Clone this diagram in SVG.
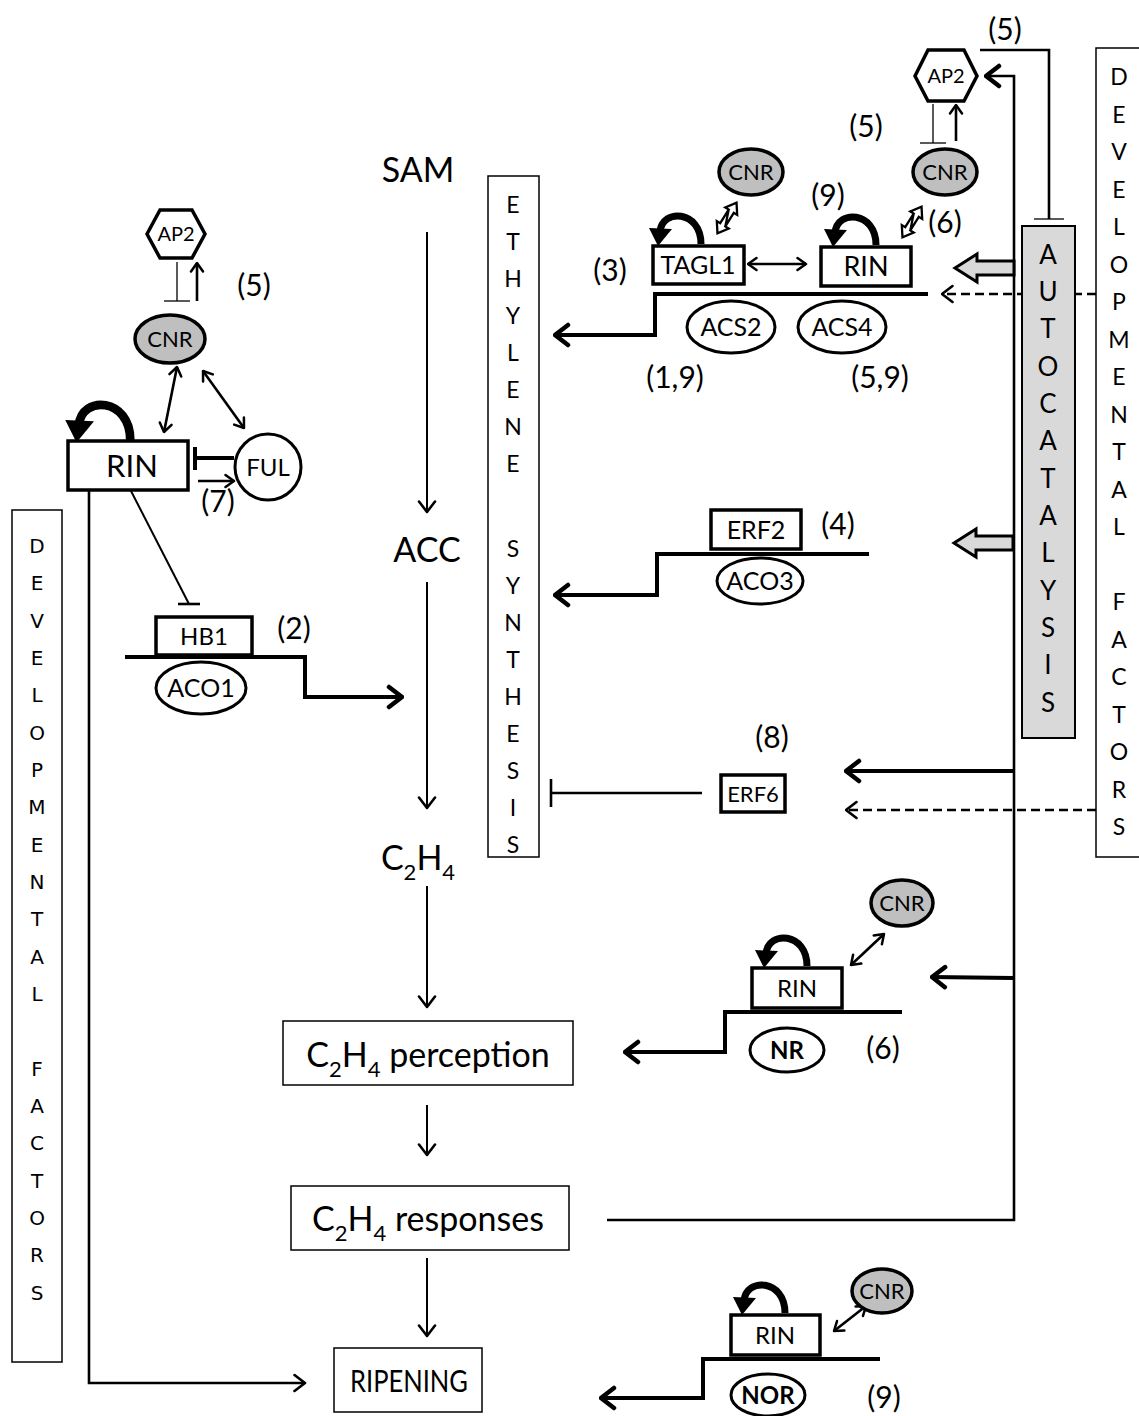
<svg xmlns="http://www.w3.org/2000/svg" xmlns:xlink="http://www.w3.org/1999/xlink" width="1139" height="1416" viewBox="0 0 1139 1416">
<style>
text{font-family:Lato,"Open Sans","Liberation Sans",sans-serif;fill:#000;text-anchor:middle}
.big{font-size:34px}
.lab{font-size:30px}
.g24{font-size:24px}
.g25{font-size:25px}
.g22{font-size:22px}
.g20{font-size:20px}
.bold{font-weight:bold}
.vl{font-size:23px}
.vlL{font-family:"DejaVu Sans",sans-serif;font-size:20px}
.box{fill:#fff;stroke:#000;stroke-width:1.5}
.gbox{fill:#fff;stroke:#000;stroke-width:3.5}
.ell{fill:#fff;stroke:#000;stroke-width:3}
.cnr{fill:#bfbfbf;stroke:#000;stroke-width:3.5}
.hex{fill:#fff;stroke:#000;stroke-width:3.5}
.thin{fill:none;stroke:#000;stroke-width:2}
.med{fill:none;stroke:#000;stroke-width:2.6}
.thick{fill:none;stroke:#000;stroke-width:4}
.dash{fill:none;stroke:#000;stroke-width:2.6;stroke-dasharray:9 5}
.bar{fill:none;stroke:#000;stroke-width:1.3}
</style>
<defs>
<marker id="ahB" viewBox="0 0 18 26" refX="16" refY="13" markerWidth="18" markerHeight="26" markerUnits="userSpaceOnUse" orient="auto-start-reverse"><path d="M3,3 L16,13 L3,23" fill="none" stroke="#000" stroke-width="4.5" stroke-linecap="round" stroke-linejoin="round"/></marker>
<marker id="ahM" viewBox="0 0 14 20" refX="12.5" refY="10" markerWidth="14" markerHeight="20" markerUnits="userSpaceOnUse" orient="auto-start-reverse"><path d="M2,2 L12.5,10 L2,18" fill="none" stroke="#000" stroke-width="2.6" stroke-linecap="round" stroke-linejoin="round"/></marker>
<marker id="ahS" viewBox="0 0 12 16" refX="10.5" refY="8" markerWidth="12" markerHeight="16" markerUnits="userSpaceOnUse" orient="auto-start-reverse"><path d="M2,2 L10.5,8 L2,14" fill="none" stroke="#000" stroke-width="2.5" stroke-linecap="round" stroke-linejoin="round"/></marker>
<g id="loop"><path d="M21,0 C21,-34 -18,-36 -20,-12" fill="none" stroke="#000" stroke-width="7"/><polygon points="-31,-16 -8,-15 -22,2" fill="#000"/></g>
<g id="dbl"><path d="M-18,0 L-8,-7 L-8,-3 L8,-3 L8,-7 L18,0 L8,7 L8,3 L-8,3 L-8,7 Z M-8,3 L8,-3" fill="#fff" stroke="#000" stroke-width="2.3" stroke-linejoin="miter"/></g>
<path id="blk" d="M0,0 L22,-14 L22,-7 L59,-7 L59,7 L22,7 L22,14 Z" fill="#d9d9d9" stroke="#000" stroke-width="3" stroke-linejoin="miter"/>
</defs>

<g id="connectors">
<line class="thin" x1="427" y1="232" x2="427" y2="512" marker-end="url(#ahM)"/>
<line class="thin" x1="427" y1="582" x2="427" y2="808" marker-end="url(#ahM)"/>
<line class="thin" x1="427" y1="886" x2="427" y2="1007" marker-end="url(#ahM)"/>
<line class="thin" x1="427" y1="1105" x2="427" y2="1155" marker-end="url(#ahM)"/>
<line class="thin" x1="427" y1="1258" x2="427" y2="1336" marker-end="url(#ahM)"/>
<path class="med" d="M89,490 L89,1383 L305,1383" marker-end="url(#ahM)"/>
<line class="thin" x1="131" y1="491" x2="189" y2="604"/>
<line class="med" x1="178" y1="604" x2="200" y2="604"/>
<line class="bar" x1="177" y1="262" x2="177" y2="301"/>
<line class="bar" x1="164" y1="301" x2="190" y2="301"/>
<line class="med" x1="197" y1="301" x2="197" y2="263" marker-end="url(#ahS)"/>
<line class="med" x1="177" y1="367" x2="164" y2="432" marker-start="url(#ahS)" marker-end="url(#ahS)"/>
<line class="med" x1="203" y1="371" x2="244" y2="428" marker-start="url(#ahS)" marker-end="url(#ahS)"/>
<line class="thick" x1="234" y1="458" x2="195" y2="458"/>
<line class="thick" x1="195" y1="447" x2="195" y2="470"/>
<line class="med" x1="198" y1="481" x2="234" y2="481" marker-end="url(#ahS)"/>
<path class="thick" d="M125,657 L305,657 L305,697 L402,697" marker-end="url(#ahB)"/>
<path class="thick" d="M928,294 L655,294 L655,335 L555,335" marker-end="url(#ahB)"/>
<path class="thick" d="M869,554 L657,554 L657,595 L555,595" marker-end="url(#ahB)"/>
<path class="thick" d="M902,1012 L725,1012 L725,1052 L625,1052" marker-end="url(#ahB)"/>
<path class="thick" d="M880,1359 L703,1359 L703,1398 L601,1398" marker-end="url(#ahB)"/>
<line class="med" x1="748" y1="264" x2="806" y2="264" marker-start="url(#ahS)" marker-end="url(#ahS)"/>
<line class="bar" x1="933" y1="104" x2="933" y2="143"/>
<line class="bar" x1="920" y1="143" x2="946" y2="143"/>
<line class="med" x1="956" y1="141" x2="956" y2="105" marker-end="url(#ahS)"/>
<path class="med" d="M980,50 L1049,50 L1049,219"/>
<line class="bar" x1="1034" y1="219" x2="1064" y2="219"/>
<line class="dash" x1="1096" y1="294" x2="942" y2="294" marker-end="url(#ahM)"/>
<line class="dash" x1="1096" y1="810" x2="846" y2="810" marker-end="url(#ahM)"/>
<path class="med" d="M607,1220 L1014,1220 L1014,76 L986,76" marker-end="url(#ahB)"/>
<line class="thick" x1="1013" y1="771" x2="846" y2="771" marker-end="url(#ahB)"/>
<line class="thick" x1="1013" y1="978" x2="932" y2="977" marker-end="url(#ahB)"/>
<line class="med" x1="702" y1="793" x2="551" y2="793"/>
<line class="med" x1="551" y1="779" x2="551" y2="807"/>
<line class="med" x1="851" y1="965" x2="884" y2="934" marker-start="url(#ahS)" marker-end="url(#ahS)"/>
<line class="med" x1="834" y1="1331" x2="866" y2="1306" marker-start="url(#ahS)" marker-end="url(#ahS)"/>
<use xlink:href="#blk" href="#blk" x="955" y="268"/>
<use xlink:href="#blk" href="#blk" x="954" y="543"/>
<use xlink:href="#dbl" href="#dbl" transform="translate(727,218) rotate(-58)"/>
<use xlink:href="#dbl" href="#dbl" transform="translate(912,222) rotate(-58)"/>
</g>

<g id="main-column">
<text class="big" x="418" y="182">SAM</text>
<text class="big" x="427" y="562">ACC</text>
<text class="big" x="418" y="870">C<tspan font-size="22" dy="10">2</tspan><tspan dy="-10">H</tspan><tspan font-size="22" dy="10">4</tspan></text>
</g>
<g id="perception"><rect class="box" x="283" y="1021" width="290" height="64"/><text class="big" x="428" y="1067">C<tspan font-size="22" dy="10">2</tspan><tspan dy="-10">H</tspan><tspan font-size="22" dy="10">4</tspan><tspan dy="-10"> perception</tspan></text></g>
<g id="responses"><rect class="box" x="291" y="1186" width="278" height="64"/><text class="big" x="428" y="1231">C<tspan font-size="22" dy="10">2</tspan><tspan dy="-10">H</tspan><tspan font-size="22" dy="10">4</tspan><tspan dy="-10"> responses</tspan></text></g>
<g id="ripening"><rect class="box" x="334" y="1348" width="148" height="64"/><text style="font-size:31px" x="409" y="1392" textLength="118" lengthAdjust="spacingAndGlyphs">RIPENING</text></g>

<g id="ethylene-synthesis"><rect class="box" x="488" y="176" width="51" height="681"/>
<text class="vl" x="513"><tspan x="513" y="213">E</tspan><tspan x="513" y="250">T</tspan><tspan x="513" y="287">H</tspan><tspan x="513" y="324">Y</tspan><tspan x="513" y="361">L</tspan><tspan x="513" y="398">E</tspan><tspan x="513" y="435">N</tspan><tspan x="513" y="472">E</tspan><tspan x="513" y="557">S</tspan><tspan x="513" y="594">Y</tspan><tspan x="513" y="631">N</tspan><tspan x="513" y="668">T</tspan><tspan x="513" y="705">H</tspan><tspan x="513" y="742">E</tspan><tspan x="513" y="779">S</tspan><tspan x="513" y="816">I</tspan><tspan x="513" y="853">S</tspan></text></g>

<g id="dev-factors-right"><rect class="box" x="1096" y="48" width="60" height="809"/>
<text class="vl" x="1119"><tspan x="1119" y="85">D</tspan><tspan x="1119" y="123">E</tspan><tspan x="1119" y="160">V</tspan><tspan x="1119" y="198">E</tspan><tspan x="1119" y="235">L</tspan><tspan x="1119" y="273">O</tspan><tspan x="1119" y="310">P</tspan><tspan x="1119" y="348">M</tspan><tspan x="1119" y="385">E</tspan><tspan x="1119" y="423">N</tspan><tspan x="1119" y="460">T</tspan><tspan x="1119" y="498">A</tspan><tspan x="1119" y="535">L</tspan><tspan x="1119" y="610">F</tspan><tspan x="1119" y="648">A</tspan><tspan x="1119" y="685">C</tspan><tspan x="1119" y="723">T</tspan><tspan x="1119" y="760">O</tspan><tspan x="1119" y="798">R</tspan><tspan x="1119" y="835">S</tspan></text></g>

<g id="dev-factors-left"><rect class="box" x="12" y="510" width="50" height="852"/>
<text class="vlL" x="37"><tspan x="37" y="553">D</tspan><tspan x="37" y="590">E</tspan><tspan x="37" y="628">V</tspan><tspan x="37" y="665">E</tspan><tspan x="37" y="702">L</tspan><tspan x="37" y="740">O</tspan><tspan x="37" y="777">P</tspan><tspan x="37" y="814">M</tspan><tspan x="37" y="852">E</tspan><tspan x="37" y="889">N</tspan><tspan x="37" y="926">T</tspan><tspan x="37" y="964">A</tspan><tspan x="37" y="1001">L</tspan><tspan x="37" y="1076">F</tspan><tspan x="37" y="1113">A</tspan><tspan x="37" y="1150">C</tspan><tspan x="37" y="1188">T</tspan><tspan x="37" y="1225">O</tspan><tspan x="37" y="1262">R</tspan><tspan x="37" y="1300">S</tspan></text></g>

<g id="autocatalysis"><rect x="1022" y="226" width="53" height="512" fill="#d9d9d9" stroke="#000" stroke-width="2"/>
<text style="font-size:26px" x="1048"><tspan x="1048" y="264">A</tspan><tspan x="1048" y="301">U</tspan><tspan x="1048" y="338">T</tspan><tspan x="1048" y="376">O</tspan><tspan x="1048" y="413">C</tspan><tspan x="1048" y="450">A</tspan><tspan x="1048" y="488">T</tspan><tspan x="1048" y="525">A</tspan><tspan x="1048" y="562">L</tspan><tspan x="1048" y="600">Y</tspan><tspan x="1048" y="637">S</tspan><tspan x="1048" y="674">I</tspan><tspan x="1048" y="712">S</tspan></text></g>

<g id="ap2-right"><polygon class="hex" points="915,76 928,50 964,50 977,76 964,101 928,101"/><text class="g20" x="946" y="83">AP2</text></g>
<g id="cnr-right"><ellipse class="cnr" cx="945" cy="172" rx="32" ry="23"/><text class="g22" x="945" y="180">CNR</text></g>
<text class="lab" x="866" y="137">(5)</text>
<text class="lab" x="1005" y="40">(5)</text>
<g id="cnr-mid"><ellipse class="cnr" cx="751" cy="172" rx="32" ry="23"/><text class="g22" x="751" y="180">CNR</text></g>
<g id="tagl1"><use xlink:href="#loop" href="#loop" x="680" y="244"/><rect class="gbox" x="653" y="246" width="91" height="38"/><text style="font-size:25px" x="698" y="274">TAGL1</text></g>
<g id="rin-top"><use xlink:href="#loop" href="#loop" x="855" y="245"/><rect class="gbox" x="821" y="247" width="90" height="39"/><text style="font-size:27px" x="866" y="276">RIN</text></g>
<text class="lab" x="610" y="281">(3)</text>
<text class="lab" x="828" y="206">(9)</text>
<text class="lab" x="945" y="233">(6)</text>
<g id="acs2"><ellipse class="ell" cx="731" cy="327" rx="44" ry="26"/><text class="g25" x="731" y="336">ACS2</text></g>
<g id="acs4"><ellipse class="ell" cx="842" cy="327" rx="44" ry="26"/><text class="g25" x="842" y="336">ACS4</text></g>
<text class="lab" x="675" y="388">(1,9)</text>
<text class="lab" x="880" y="388">(5,9)</text>

<g id="erf2"><rect class="gbox" x="711" y="510" width="90" height="39"/><text class="g25" x="756" y="539">ERF2</text></g>
<g id="aco3"><ellipse class="ell" cx="760" cy="581" rx="43" ry="23"/><text class="g25" x="760" y="590">ACO3</text></g>
<text class="lab" x="838" y="535">(4)</text>

<g id="erf6"><rect class="gbox" x="721" y="775" width="64" height="37"/><text class="g22" x="753" y="802">ERF6</text></g>
<text class="lab" x="772" y="748">(8)</text>

<g id="cnr-nr"><ellipse class="cnr" cx="902" cy="903" rx="31" ry="23"/><text class="g22" x="902" y="911">CNR</text></g>
<g id="rin-nr"><use xlink:href="#loop" href="#loop" x="786" y="966"/><rect class="gbox" x="752" y="968" width="90" height="40"/><text class="g24" x="797" y="997">RIN</text></g>
<g id="nr"><ellipse class="ell" cx="787" cy="1050" rx="37" ry="22"/><text class="g24 bold" x="787" y="1059">NR</text></g>
<text class="lab" x="883" y="1059">(6)</text>

<g id="cnr-nor"><ellipse class="cnr" cx="882" cy="1291" rx="30" ry="22"/><text class="g22" x="882" y="1299">CNR</text></g>
<g id="rin-nor"><use xlink:href="#loop" href="#loop" x="764" y="1313"/><rect class="gbox" x="731" y="1315" width="89" height="40"/><text class="g24" x="775" y="1344">RIN</text></g>
<g id="nor"><ellipse class="ell" cx="768" cy="1395" rx="37" ry="21"/><text class="g24 bold" x="768" y="1404">NOR</text></g>
<text class="lab" x="884" y="1408">(9)</text>

<g id="ap2-left"><polygon class="hex" points="147,234 160,210 192,210 205,234 192,258 160,258"/><text class="g20" x="176" y="241">AP2</text></g>
<text class="lab" x="254" y="296">(5)</text>
<g id="cnr-left"><ellipse class="cnr" cx="170" cy="339" rx="35" ry="24"/><text class="g22" x="170" y="347">CNR</text></g>
<g id="rin-left"><g transform="translate(104,440) scale(1.25)"><use xlink:href="#loop" href="#loop"/></g><rect class="gbox" x="68" y="441" width="120" height="49"/><text style="font-size:31px" x="132" y="477">RIN</text></g>
<g id="ful"><circle class="ell" cx="268" cy="467" r="33"/><text class="g24" x="268" y="476">FUL</text></g>
<text class="lab" x="218" y="512">(7)</text>
<g id="hb1"><rect class="gbox" x="156" y="617" width="96" height="38"/><text class="g24" x="204" y="645">HB1</text></g>
<g id="aco1"><ellipse class="ell" cx="201" cy="688" rx="45" ry="26"/><text class="g25" x="201" y="697">ACO1</text></g>
<text class="lab" x="294" y="639">(2)</text>
</svg>
